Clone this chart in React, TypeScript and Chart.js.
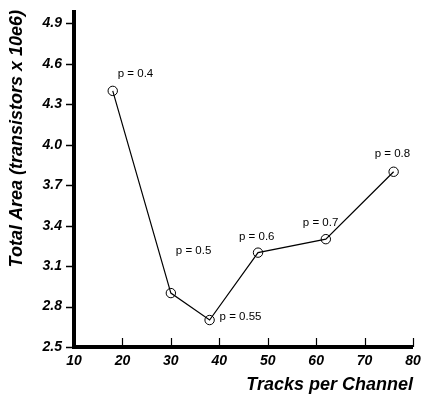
import React, { useEffect, useRef } from "react";
import { Chart, registerables } from "chart.js";

Chart.register(...registerables);

const tracks = [18, 30, 38, 48, 62, 76];
const area = [4.4, 2.9, 2.7, 3.2, 3.3, 3.8];
const pLabels = ["p = 0.4", "p = 0.5", "p = 0.55", "p = 0.6", "p = 0.7", "p = 0.8"];
const yTickValues = [2.5, 2.8, 3.1, 3.4, 3.7, 4.0, 4.3, 4.6, 4.9];
const xTickValues = [10, 20, 30, 40, 50, 60, 70, 80];

// label placement offsets (pixels) relative to each point
const labelOffsets: [number, number][] = [
  [5, -17],
  [5, -42],
  [10, -3],
  [-19, -16],
  [-23, -16],
  [-19, -18],
];

const FONT = "'Liberation Sans', Arial, Helvetica, sans-serif";

const axisPlugin = {
  id: "customAxes",
  afterDraw(chart: any) {
    const { ctx, chartArea, scales } = chart;
    const xs = scales.x;
    const ys = scales.y;
    ctx.save();
    ctx.strokeStyle = "#000";
    // y ticks (outside)
    ctx.lineWidth = 1.5;
    for (const v of yTickValues) {
      const py = Math.round(ys.getPixelForValue(v)) + 0.5;
      ctx.beginPath();
      ctx.moveTo(chartArea.left - 8, py);
      ctx.lineTo(chartArea.left, py);
      ctx.stroke();
    }
    // x ticks (inside)
    ctx.lineWidth = 1.2;
    for (const v of xTickValues) {
      const px = Math.round(xs.getPixelForValue(v)) + 0.5;
      ctx.beginPath();
      ctx.moveTo(px, chartArea.bottom - 9);
      ctx.lineTo(px, chartArea.bottom);
      ctx.stroke();
    }
    // axis lines
    ctx.lineWidth = 4;
    ctx.beginPath();
    ctx.moveTo(chartArea.left, chartArea.top);
    ctx.lineTo(chartArea.left, chartArea.bottom + 2);
    ctx.stroke();
    ctx.beginPath();
    ctx.moveTo(chartArea.left - 2, chartArea.bottom);
    ctx.lineTo(chartArea.right, chartArea.bottom);
    ctx.stroke();

    // point labels
    ctx.fillStyle = "#000";
    ctx.font = `11.5px ${FONT}`;
    ctx.textAlign = "left";
    ctx.textBaseline = "middle";
    tracks.forEach((t, i) => {
      const px = xs.getPixelForValue(t);
      const py = ys.getPixelForValue(area[i]);
      const [dx, dy] = labelOffsets[i];
      ctx.fillText(pLabels[i], px + dx, py + dy);
    });
    ctx.restore();
  },
};

export default function App() {
  const canvasRef = useRef<HTMLCanvasElement | null>(null);

  useEffect(() => {
    if (!canvasRef.current) return;
    const chart = new Chart(canvasRef.current, {
      type: "line",
      data: {
        datasets: [
          {
            data: tracks.map((t, i) => ({ x: t, y: area[i] })),
            borderColor: "#000",
            borderWidth: 1.2,
            pointRadius: 4.7,
            pointBorderWidth: 1,
            pointBorderColor: "#000",
            pointBackgroundColor: "rgba(0,0,0,0)",
            fill: false,
            tension: 0,
          },
        ],
      },
      options: {
        responsive: false,
        animation: false,
        layout: { padding: { top: 10, right: 8, left: 0, bottom: 0 } },
        plugins: {
          legend: { display: false },
          tooltip: { enabled: false },
        },
        scales: {
          x: {
            type: "linear",
            min: 10,
            max: 80,
            afterBuildTicks: (scale: any) => {
              scale.ticks = xTickValues.map((v) => ({ value: v }));
            },
            afterFit: (scale: any) => {
              scale.height = 47;
              scale.paddingLeft = 0;
              scale.paddingRight = 0;
            },
            grid: { display: false, drawTicks: false },
            border: { display: false },
            ticks: {
              color: "#000",
              padding: 6,
              font: { family: FONT, size: 14, weight: "bold", style: "italic" },
              callback: (v: any) => String(v),
            },
            title: {
              display: true,
              text: "Tracks per Channel",
              align: "end",
              color: "#000",
              padding: { top: 0, bottom: 0 },
              font: { family: FONT, size: 18, weight: "bold", style: "italic", lineHeight: 1 },
            },
          },
          y: {
            type: "linear",
            min: 2.5,
            max: 5.0,
            afterBuildTicks: (scale: any) => {
              scale.ticks = yTickValues.map((v) => ({ value: v }));
            },
            afterFit: (scale: any) => {
              scale.width = 74;
              scale.paddingTop = 0;
              scale.paddingBottom = 0;
            },
            grid: { display: false, drawTicks: false },
            border: { display: false },
            ticks: {
              color: "#000",
              padding: 12,
              font: { family: FONT, size: 14, weight: "bold", style: "italic" },
              callback: (v: any) => Number(v).toFixed(1),
            },
            title: {
              display: true,
              text: "Total Area (transistors x 10e6)",
              align: "end",
              color: "#000",
              padding: { top: 8, bottom: 0 },
              font: { family: FONT, size: 18, weight: "bold", style: "italic", lineHeight: 1 },
            },
          },
        },
      },
      plugins: [axisPlugin],
    } as any);
    return () => chart.destroy();
  }, []);

  return (
    <div style={{ position: "fixed", left: 0, top: 0, width: 421, height: 394, background: "#fff" }}>
      <canvas ref={canvasRef} width={421} height={394} style={{ display: "block" }} />
    </div>
  );
}
